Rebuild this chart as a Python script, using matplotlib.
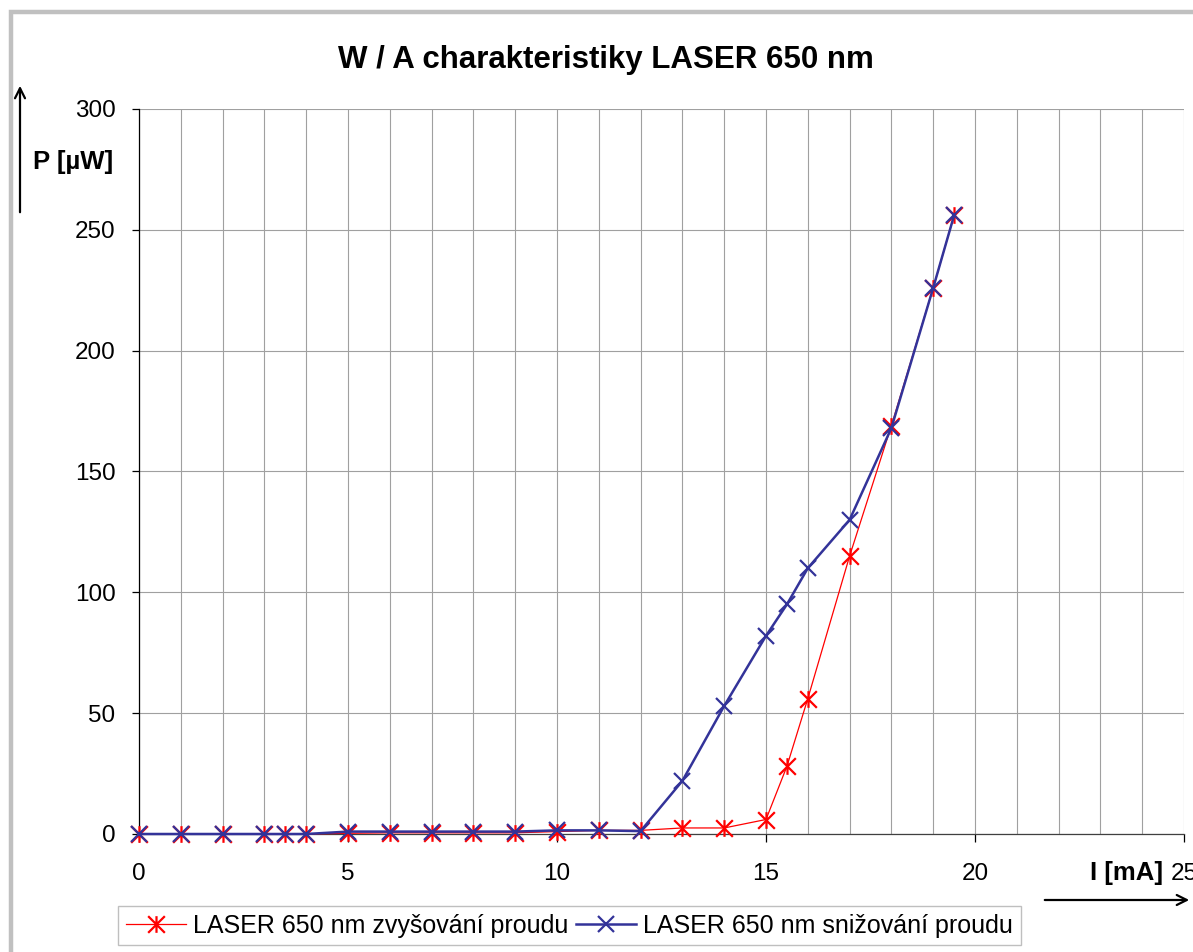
import matplotlib
matplotlib.use("Agg")
import matplotlib.pyplot as plt
from matplotlib.path import Path
from matplotlib.patches import Rectangle, FancyArrowPatch
from matplotlib.ticker import MultipleLocator

plt.rcParams['font.family'] = ['Liberation Sans', 'DejaVu Sans']

# measured current [mA]
current = [0, 1, 2, 3, 3.5, 4, 5, 6, 7, 8, 9, 10, 11, 12, 13, 14, 15, 15.5, 16, 17, 18, 19, 19.5]
# optical power [uW] while increasing / decreasing the current
power_up = [0, 0, 0, 0, 0, 0, 0.3, 0.5, 0.5, 0.5, 0.5, 1, 1.5, 1.5, 2.5, 2.5, 6, 28, 56, 115, 169, 226, 256]
power_down = [0, 0, 0, 0, 0, 0, 1, 1, 1, 1, 1, 1.5, 1.5, 1.2, 22, 53, 82, 95, 110, 130, 168, 226, 256]

label_up = "LASER 650 nm zvyšování proudu"
label_down = "LASER 650 nm snižování proudu"

W, H = 1193, 952
fig = plt.figure(figsize=(W / 100, H / 100), dpi=100)
ax = fig.add_axes([139 / W, 1 - 834 / H, (1184 - 139) / W, (834 - 109) / H])

# excel style asterisk marker
star = Path([(-1, -1), (1, 1), (-1, 1), (1, -1), (0, -1), (0, 1)],
            [Path.MOVETO, Path.LINETO, Path.MOVETO, Path.LINETO, Path.MOVETO, Path.LINETO])

ax.plot(current, power_up, color='#ff0000', lw=0.9, marker=star, ms=12, mew=1.6,
        label=label_up, zorder=3, clip_on=False)
ax.plot(current, power_down, color='#333399', lw=1.8, marker='x', ms=12, mew=1.6,
        label=label_down, zorder=4, clip_on=False)

ax.set_xlim(0, 25)
ax.set_ylim(0, 300)
ax.xaxis.set_major_locator(MultipleLocator(5))
ax.xaxis.set_minor_locator(MultipleLocator(1))
ax.yaxis.set_major_locator(MultipleLocator(50))
ax.grid(True, which='both', axis='x', color='#a0a0a0', lw=0.8)
ax.grid(True, which='major', axis='y', color='#a0a0a0', lw=0.8)
ax.set_axisbelow(True)

for s in ['top', 'right']:
    ax.spines[s].set_visible(False)
ax.spines['left'].set_color('black')
ax.spines['bottom'].set_color('#404040')
ax.spines['left'].set_linewidth(0.9)
ax.spines['bottom'].set_linewidth(0.9)

ax.tick_params(axis='x', which='major', length=6, width=0.9, direction='out', pad=15, labelsize=17.5)
ax.tick_params(axis='x', which='minor', length=0)
ax.tick_params(axis='y', length=5, width=0.9, direction='out', pad=12, labelsize=17.5)

fig.text(606 / W, 1 - 60 / H, "W / A charakteristiky LASER 650 nm", ha='center', va='center',
         fontsize=22.5, fontweight='bold')
fig.text(73 / W, 1 - 162 / H, "P [µW]", ha='center', va='center', fontsize=18.5, fontweight='bold')
fig.text(1127 / W, 1 - 873 / H, "I [mA]", ha='center', va='center', fontsize=18.5, fontweight='bold')

fig.add_artist(FancyArrowPatch((20 / W, 1 - 215 / H), (20 / W, 1 - 83 / H), transform=fig.transFigure,
                               arrowstyle='->', mutation_scale=18, lw=1.6, color='black'))
fig.add_artist(FancyArrowPatch((1042 / W, 1 - 900 / H), (1192 / W, 1 - 900 / H), transform=fig.transFigure,
                               arrowstyle='->', mutation_scale=18, lw=1.6, color='black'))

# grey chart-area border (cut by the picture edge on the right and bottom)
fig.add_artist(Rectangle((11 / W, -0.1), 1.2, 1.1 - 12 / H, transform=fig.transFigure,
                         fill=False, ec='#c0c0c0', lw=3.2))

leg = fig.legend(loc='upper left', bbox_to_anchor=(118 / W, 1 - 906 / H), ncol=2, fontsize=18,
                 frameon=True, fancybox=False, edgecolor='#b0b0b0', handlelength=2.4,
                 columnspacing=0.3, handletextpad=0.3, borderpad=0.3, borderaxespad=0)
leg.get_frame().set_linewidth(1.0)

fig.savefig("out.png", dpi=100)
